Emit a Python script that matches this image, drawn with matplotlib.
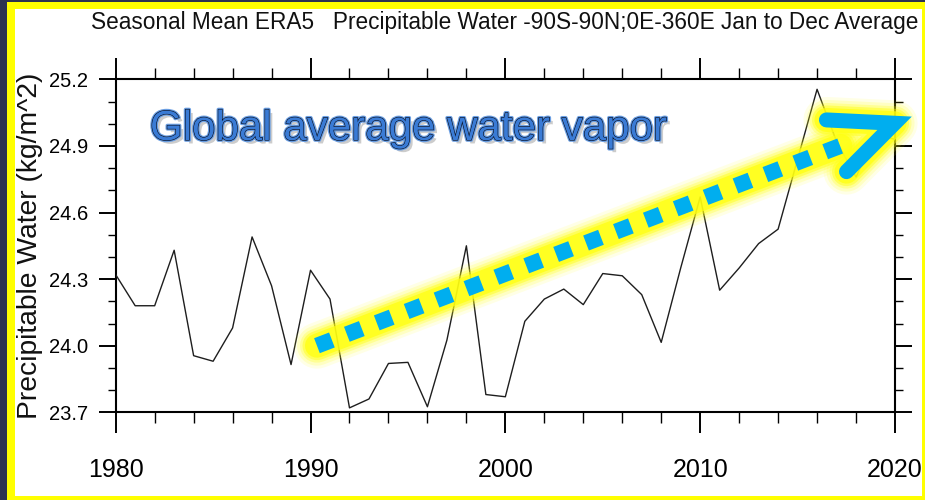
import matplotlib
matplotlib.use("Agg")
import matplotlib.pyplot as plt
import matplotlib.patheffects as pe
from matplotlib.patches import Rectangle
from matplotlib.ticker import MultipleLocator, FormatStrFormatter

# ERA5 global-mean precipitable water, annual (Jan-Dec) averages
years = list(range(1980, 2021))
precip_water = [
    24.32, 24.18, 24.18, 24.43, 23.955, 23.93, 24.08, 24.49, 24.27, 23.915,
    24.34, 24.21, 23.72, 23.76, 23.92, 23.925, 23.725, 24.025, 24.45, 23.78,
    23.77, 24.11, 24.21, 24.255, 24.185, 24.325, 24.315, 24.23, 24.015, 24.35,
    24.67, 24.25, 24.35, 24.46, 24.525, 24.84, 25.155, 24.92, 24.76, 24.95, 24.93,
]
x_ticks = [1980, 1990, 2000, 2010, 2020]
y_ticks = [23.7, 24.0, 24.3, 24.6, 24.9, 25.2]

title = "Seasonal Mean ERA5   Precipitable Water -90S-90N;0E-360E Jan to Dec Average"
y_label = "Precipitable Water (kg/m^2)"
callout = "Global average water vapor"

# hand-drawn trend arrow (data units)
trend_x = [1990.33, 2017.2]
trend_y = [24.00, 24.90]
head_x = [2016.48, 2019.98, 2017.51]
head_y = [25.017, 25.002, 24.784]

W, H = 925, 500
fig = plt.figure(figsize=(W / 100, H / 100), dpi=100)
fig.patch.set_facecolor("#2c3350")


def fx(px):
    return px / W


def fy(py):
    return 1 - py / H


# yellow frame and white page, kept underneath the axes
fig.patches.append(Rectangle((fx(7), fy(500)), fx(925 - 7), 498 / H,
                             transform=fig.transFigure, facecolor="#ffff00",
                             edgecolor="none", zorder=-3))
fig.patches.append(Rectangle((fx(15), fy(496)), fx(922 - 15), (496 - 9) / H,
                             transform=fig.transFigure, facecolor="white",
                             edgecolor="none", zorder=-2))

ax = fig.add_axes([fx(115.7), fy(412.3), fx(895 - 115.7), (412.3 - 79.3) / H])
ax.set_facecolor("white")
ax.set_xlim(1980, 2020)
ax.set_ylim(23.7, 25.2)

ax.plot(years, precip_water, color="#1e1e1e", lw=1.0, zorder=3)

font = ["Liberation Sans", "DejaVu Sans"]

ax.set_xticks(x_ticks)
ax.set_yticks(y_ticks)
ax.xaxis.set_minor_locator(MultipleLocator(2))
ax.yaxis.set_minor_locator(MultipleLocator(0.1))
ax.yaxis.set_major_formatter(FormatStrFormatter("%.1f"))
ax.tick_params(axis="x", which="major", direction="out", length=15, width=1.4,
               top=True, bottom=True, pad=18, labelsize=18)
ax.tick_params(axis="x", which="minor", direction="out", length=8, width=1.0,
               top=True, bottom=True)
ax.tick_params(axis="y", which="major", direction="out", length=12, width=1.4,
               left=True, right=True, pad=8, labelsize=14.5)
ax.tick_params(axis="y", which="minor", direction="out", length=6, width=1.0,
               left=True, right=True)
for lab in ax.get_xticklabels() + ax.get_yticklabels():
    lab.set_family(font)
for s in ax.spines.values():
    s.set_linewidth(1.5)

fig.text(fx(505), fy(22), title, ha="center", va="center", fontsize=16.3,
         family=font, color="#111111")
fig.text(fx(30), fy(246), y_label, rotation=90, ha="center", va="center",
         fontsize=20.3, family=font, color="#111111")

# yellow glow behind the arrow
glow = [(46, 0.10), (40, 0.16), (34, 0.26), (29, 0.45), (24, 0.75)]
for w, a in glow:
    for xs, ys in ((trend_x, trend_y), (head_x, head_y)):
        ax.plot(xs, ys, color="#ffff10", lw=w * 0.72, alpha=a,
                solid_capstyle="round", solid_joinstyle="round",
                clip_on=False, zorder=4)

ax.plot(trend_x, trend_y, color="#00aeef", lw=16 * 0.72,
        linestyle=(0, (1, 1)), dash_capstyle="butt", clip_on=False, zorder=5)
ax.plot(head_x, head_y, color="#00aeef", lw=15 * 0.72,
        solid_capstyle="round", solid_joinstyle="miter", clip_on=False, zorder=5)

fig.text(fx(150), fy(140), callout, ha="left", va="baseline", fontsize=30.3,
         family=font, color="#3a7bd5",
         path_effects=[
             pe.SimplePatchShadow(offset=(2.5, -2.5), shadow_rgbFace="#808080", alpha=0.4),
             pe.Stroke(linewidth=2.6, foreground="#6b9fe3"),
             pe.Stroke(linewidth=0.9, foreground="#0b1428"),
             pe.Normal(),
         ])

fig.savefig("out.png", dpi=100, facecolor=fig.get_facecolor())
